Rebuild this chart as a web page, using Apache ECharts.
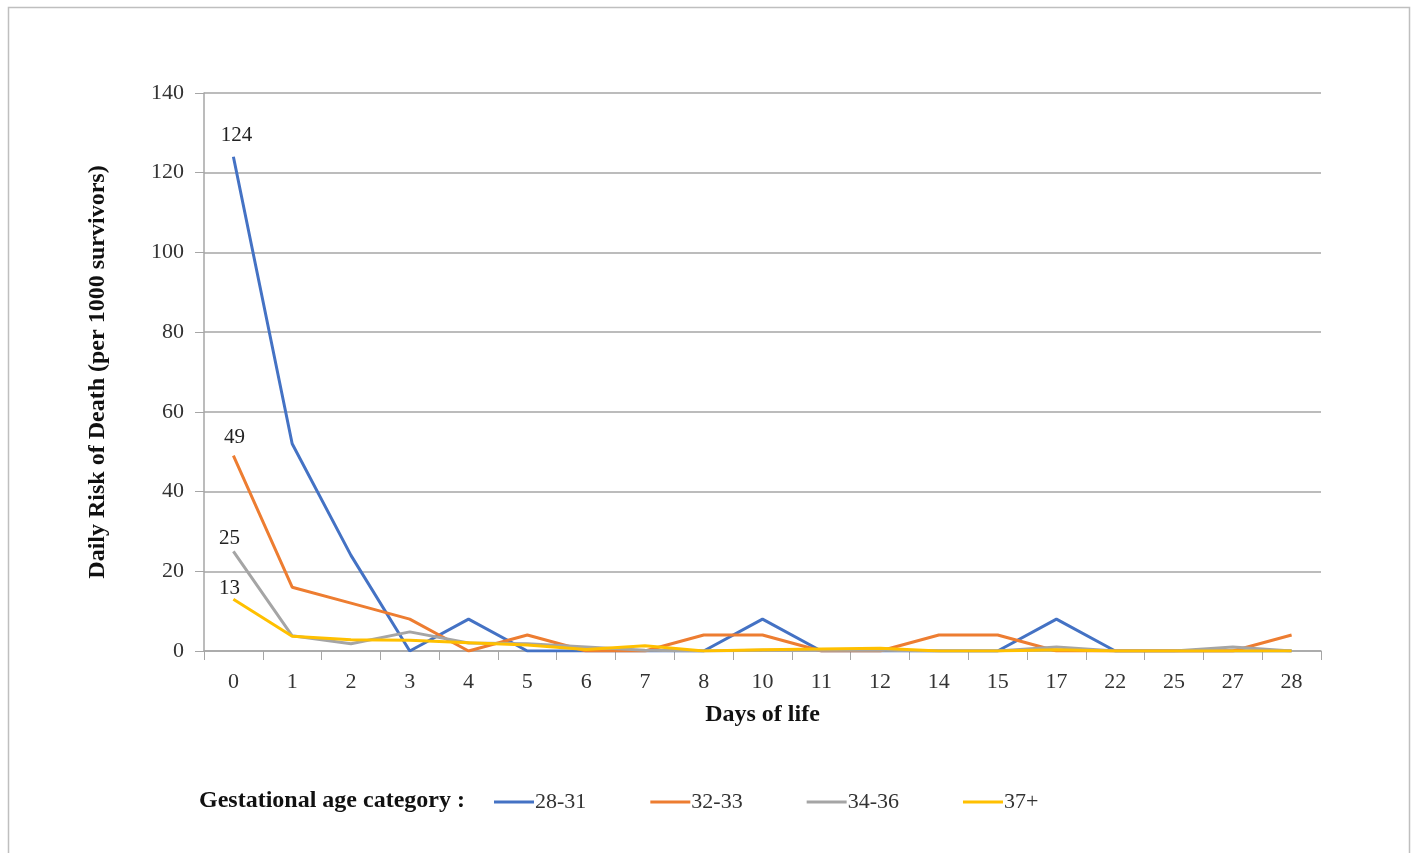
<!DOCTYPE html>
<html>
<head>
<meta charset="utf-8">
<script src="https://cdn.jsdelivr.net/npm/echarts@6/dist/echarts.min.js"></script>
<style>
  html, body {margin: 0; padding: 0; background: #fff;}
  #main {width: 1413px; height: 853px;}
</style>
</head>
<body>
<div id="main"></div>
<script>
const days = ['0', '1', '2', '3', '4', '5', '6', '7', '8', '10', '11', '12', '14', '15', '17', '22', '25', '27', '28'];
const seriesNames = ['28-31', '32-33', '34-36', '37+'];
const ga2831 = [124, 52, 24, 0, 8, 0, 0, 0, 0, 8, 0, 0, 0, 0, 8, 0, 0, 0, 0];
const ga3233 = [49, 16, 12, 8, 0, 4, 0, 0, 4, 4, 0, 0, 4, 4, 0, 0, 0, 0, 4];
const ga3436 = [25, 3.8, 1.8, 4.8, 2, 1.8, 1, 0.2, 0, 0.2, 0.2, 0.2, 0, 0, 1, 0, 0, 1, 0];
const ga37 = [13, 3.7, 2.8, 2.7, 2.1, 1.5, 0.4, 1.3, 0, 0.3, 0.5, 0.7, 0, 0, 0.3, 0, 0, 0, 0];
const yTicks = {min: 0, max: 140, interval: 20};

const colors = ['#4472C4', '#ED7D31', '#A5A5A5', '#FFC000'];
const font = '"Liberation Serif", "DejaVu Serif", serif';

const chart = echarts.init(document.getElementById('main'));

// only the first point of each line carries a value label
const mkSeries = (name, data, color, dist, dx) => ({
  name,
  type: 'line',
  data: data.map((v, i) => i === 0
    ? {value: v, label: {show: true, position: 'top', distance: dist, offset: [dx, 0]}}
    : v),
  symbol: 'circle',
  symbolSize: 0,
  lineStyle: {width: 3, color},
  itemStyle: {color},
  z: 3,
  label: {
    show: false,
    fontFamily: font,
    fontSize: 21,
    color: '#222'
  }
});

chart.setOption({
  animation: false,
  textStyle: {fontFamily: font},
  grid: {left: 204, right: 92, top: 93, bottom: 202},
  graphic: [
    {
      type: 'rect',
      left: 6, top: 5,
      shape: {width: 1401, height: 870},
      style: {fill: 'none', stroke: '#BFBFBF', lineWidth: 1.5},
      silent: true
    },
    {
      type: 'text',
      left: 199, top: 789,
      style: {text: 'Gestational age category :', font: 'bold 24px ' + font, fill: '#111'}
    }
  ],
  legend: {
    left: 489,
    top: 786,
    itemWidth: 40,
    itemHeight: 3,
    itemGap: 64,
    icon: 'rect',
    data: seriesNames,
    textStyle: {fontFamily: font, fontSize: 22, color: '#333', padding: [0, 0, 0, -4]}
  },
  xAxis: {
    type: 'category',
    data: days,
    boundaryGap: true,
    name: 'Days of life',
    nameLocation: 'middle',
    nameGap: 52,
    nameTextStyle: {fontFamily: font, fontSize: 24, fontWeight: 'bold', color: '#111'},
    axisLine: {lineStyle: {color: '#A6A6A6', width: 1.5}},
    axisTick: {show: true, length: 9, alignWithLabel: false, lineStyle: {color: '#A6A6A6'}},
    axisLabel: {fontFamily: font, fontSize: 22, color: '#333', margin: 20}
  },
  yAxis: {
    type: 'value',
    min: yTicks.min,
    max: yTicks.max,
    interval: yTicks.interval,
    name: 'Daily Risk of Death (per 1000 survivors)',
    nameLocation: 'middle',
    nameGap: 94,
    nameRotate: 90,
    nameTextStyle: {fontFamily: font, fontSize: 24, fontWeight: 'bold', color: '#111'},
    axisLine: {show: true, lineStyle: {color: '#A6A6A6', width: 1.5}},
    axisTick: {show: true, length: 9, lineStyle: {color: '#A6A6A6'}},
    axisLabel: {fontFamily: font, fontSize: 22, color: '#333', margin: 20},
    splitLine: {lineStyle: {color: '#A6A6A6', width: 1.5}}
  },
  color: colors,
  series: [
    mkSeries(seriesNames[0], ga2831, colors[0], 11, 3),
    mkSeries(seriesNames[1], ga3233, colors[1], 8, 1),
    mkSeries(seriesNames[2], ga3436, colors[2], 2, -4),
    mkSeries(seriesNames[3], ga37, colors[3], 0, -4)
  ]
});
</script>
</body>
</html>
